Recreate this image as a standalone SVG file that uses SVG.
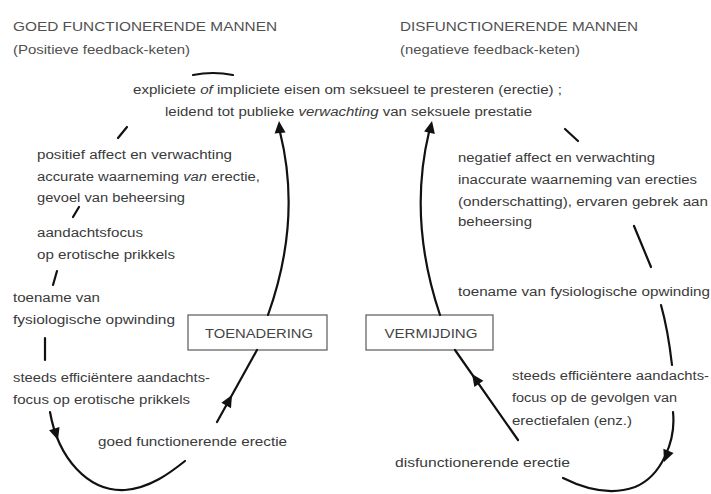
<svg xmlns="http://www.w3.org/2000/svg" xmlns:xlink="http://www.w3.org/1999/xlink" width="711" height="494" viewBox="0 0 711 494">
<style>
text{font-family:"Liberation Sans",Arial,sans-serif;fill:#3a3a3a;font-size:12px}
.title{font-size:13px;fill:#505050}
.sub{font-size:12px;fill:#505050}
.box{fill:#fff;stroke:#666;stroke-width:1.3}
.lbl{font-size:12.5px;fill:#444}
.ln{fill:none;stroke:#111;stroke-width:2.2;stroke-linecap:round}
.ah{fill:#111}
</style>
<defs>
<path id="tri" d="M0,0 L-12,-5.5 L-12,5.5 Z"/>
</defs>
<rect width="711" height="494" fill="#fff"/>

<g id="titles">
<text class="title" x="13" y="31" textLength="264" lengthAdjust="spacingAndGlyphs">GOED FUNCTIONERENDE MANNEN</text>
<text class="sub" x="13" y="54" textLength="177" lengthAdjust="spacingAndGlyphs">(Positieve feedback-keten)</text>
<text class="title" x="400" y="31" textLength="238" lengthAdjust="spacingAndGlyphs">DISFUNCTIONERENDE MANNEN</text>
<text class="sub" x="400" y="54" textLength="180" lengthAdjust="spacingAndGlyphs">(negatieve feedback-keten)</text>
</g>

<g id="node-eisen">
<text x="133" y="94" textLength="429" lengthAdjust="spacingAndGlyphs">expliciete <tspan font-style="italic">of</tspan> impliciete eisen om seksueel te presteren (erectie) ;</text>
<text x="165" y="116" textLength="367" lengthAdjust="spacingAndGlyphs">leidend tot publieke <tspan font-style="italic">verwachting</tspan> van seksuele prestatie</text>
</g>

<g id="node-pos-affect">
<text x="37" y="159" textLength="195" lengthAdjust="spacingAndGlyphs">positief affect en verwachting</text>
<text x="37" y="181" textLength="223" lengthAdjust="spacingAndGlyphs">accurate waarneming <tspan font-style="italic">van</tspan> erectie,</text>
<text x="37" y="202" textLength="148" lengthAdjust="spacingAndGlyphs">gevoel van beheersing</text>
</g>
<g id="node-pos-focus">
<text x="37" y="237" textLength="106" lengthAdjust="spacingAndGlyphs">aandachtsfocus</text>
<text x="37" y="259" textLength="138" lengthAdjust="spacingAndGlyphs">op erotische prikkels</text>
</g>
<g id="node-pos-toename">
<text x="13" y="302" textLength="87" lengthAdjust="spacingAndGlyphs">toename van</text>
<text x="13" y="324" textLength="162" lengthAdjust="spacingAndGlyphs">fysiologische opwinding</text>
</g>
<g id="node-pos-steeds">
<text x="13" y="382" textLength="197" lengthAdjust="spacingAndGlyphs">steeds efficiëntere aandachts-</text>
<text x="13" y="404" textLength="177" lengthAdjust="spacingAndGlyphs">focus op erotische prikkels</text>
</g>
<g id="node-pos-erectie">
<text x="98" y="446" textLength="189" lengthAdjust="spacingAndGlyphs">goed functionerende erectie</text>
</g>
<g id="node-toenadering">
<rect class="box" x="188" y="315" width="139" height="35"/>
<text class="lbl" x="259" y="337.5" text-anchor="middle" textLength="108" lengthAdjust="spacingAndGlyphs">TOENADERING</text>
</g>

<g id="node-neg-affect">
<text x="458" y="162" textLength="197" lengthAdjust="spacingAndGlyphs">negatief affect en verwachting</text>
<text x="458" y="184" textLength="239" lengthAdjust="spacingAndGlyphs">inaccurate waarneming van erecties</text>
<text x="458" y="206" textLength="250" lengthAdjust="spacingAndGlyphs">(onderschatting), ervaren gebrek aan</text>
<text x="458" y="226" textLength="74" lengthAdjust="spacingAndGlyphs">beheersing</text>
</g>
<g id="node-neg-toename">
<text x="458" y="296" textLength="252" lengthAdjust="spacingAndGlyphs">toename van fysiologische opwinding</text>
</g>
<g id="node-neg-steeds">
<text x="512" y="380" textLength="197" lengthAdjust="spacingAndGlyphs">steeds efficiëntere aandachts-</text>
<text x="512" y="402" textLength="165" lengthAdjust="spacingAndGlyphs">focus op de gevolgen van</text>
<text x="512" y="425" textLength="120" lengthAdjust="spacingAndGlyphs">erectiefalen (enz.)</text>
</g>
<g id="node-neg-erectie">
<text x="395" y="467" textLength="175" lengthAdjust="spacingAndGlyphs">disfunctionerende erectie</text>
</g>
<g id="node-vermijding">
<rect class="box" x="366" y="315" width="127" height="35"/>
<text class="lbl" x="431" y="337.5" text-anchor="middle" textLength="93" lengthAdjust="spacingAndGlyphs">VERMIJDING</text>
</g>

<g id="connectors">
<path class="ln" d="M193,75 Q213,71 233,75"/>
<!-- left chain -->
<path class="ln" d="M118,138 L127,127"/>
<path class="ln" d="M73,217 L79,207"/>
<path class="ln" d="M53,285 L57,271"/>
<path class="ln" d="M45,338 L45,360"/>
<path class="ln" d="M50,412 C58,458 88,492 125,490 C150,488 170,473 185,461"/>
<use xlink:href="#tri" class="ah" transform="translate(58,440) rotate(72)"/>
<path class="ln" d="M217,422 L257,350"/>
<use xlink:href="#tri" class="ah" transform="translate(232,395) rotate(-61)"/>
<path class="ln" d="M268,315 Q302,220 280,132"/>
<use xlink:href="#tri" class="ah" transform="translate(279,121) rotate(-95)"/>
<!-- right chain -->
<path class="ln" d="M440,315 Q408,220 429,132"/>
<use xlink:href="#tri" class="ah" transform="translate(432,121) rotate(-78)"/>
<path class="ln" d="M455,350 L518,440"/>
<use xlink:href="#tri" class="ah" transform="translate(472,374) rotate(-125)"/>
<path class="ln" d="M565,129 L578,141"/>
<path class="ln" d="M634,226 L651,267"/>
<path class="ln" d="M661,305 Q668,330 672,365"/>
<path class="ln" d="M673,412 C676,440 662,476 635,487 C610,496 585,489 563,478"/>
<use xlink:href="#tri" class="ah" transform="translate(664,462) rotate(112)"/>
</g>
</svg>
